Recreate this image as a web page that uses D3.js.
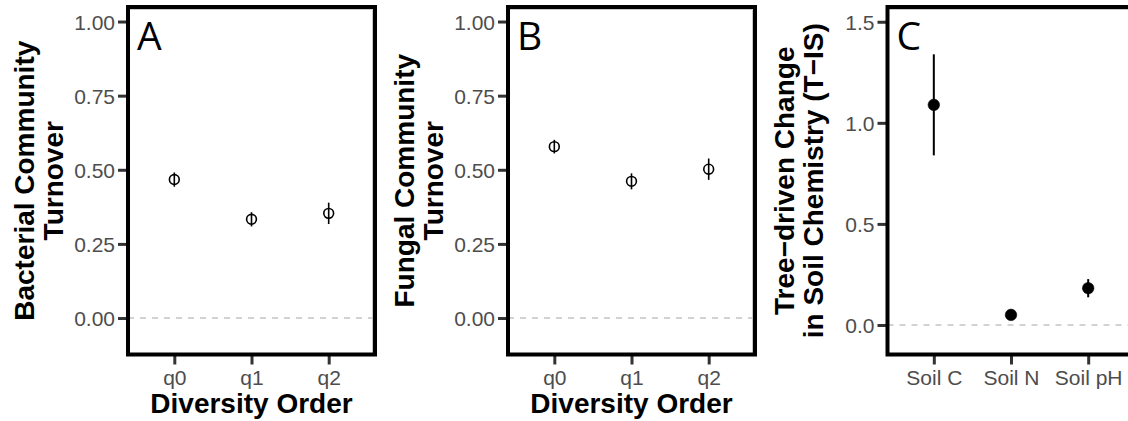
<!DOCTYPE html>
<html>
<head>
<meta charset="utf-8">
<script src="https://cdn.jsdelivr.net/npm/d3@7"></script>
<style>
  html, body { margin: 0; padding: 0; background: #fff; }
  svg { display: block; }
</style>
</head>
<body>
<svg id="chart" width="1128" height="421"></svg>
<script>
// Community turnover by diversity order (mean ± error)
const diversityOrders = ["q0", "q1", "q2"];
const bacterialTurnover = [0.467, 0.333, 0.353];
const bacterialError = [0.024, 0.024, 0.036];
const fungalTurnover = [0.578, 0.461, 0.502];
const fungalError = [0.023, 0.027, 0.036];

// Tree-driven change in soil chemistry (mean ± error)
const soilVariables = ["Soil C", "Soil N", "Soil pH"];
const soilChange = [1.089, 0.050, 0.182];
const soilError = [0.250, 0.015, 0.045];

// Axis ticks
const turnoverTicks = [0, 0.25, 0.5, 0.75, 1.0];
const soilTicks = [0, 0.5, 1.0, 1.5];

const svg = d3.select("#chart");
const tickFont = "'Liberation Sans', Arial, Helvetica, sans-serif";
const panelTop = 7, panelBottom = 354.5, panelWidth = 247;

function drawPanel(opts) {
  const left = opts.left, right = left + panelWidth;
  const g = svg.append("g");

  const x = d3.scalePoint().domain(opts.categories).range([left, right]).padding(0.6);
  const y = d3.scaleLinear().domain(opts.yDomain).range([panelBottom, panelTop]);

  // y axis
  const yAxis = g.append("g")
    .attr("transform", `translate(${left},0)`)
    .call(d3.axisLeft(y).tickValues(opts.yTicks).tickFormat(d3.format(opts.yFormat)).tickSize(10).tickPadding(3));
  yAxis.select(".domain").remove();
  yAxis.selectAll(".tick line").attr("stroke", "#333").attr("stroke-width", 3);
  yAxis.selectAll(".tick text")
    .attr("fill", "#4d4d4d").attr("font-family", tickFont).attr("font-size", 21)
    .attr("dy", "0.36em");

  // x axis
  const xAxis = g.append("g")
    .attr("transform", `translate(0,${panelBottom})`)
    .call(d3.axisBottom(x).tickSize(10).tickPadding(2));
  xAxis.select(".domain").remove();
  xAxis.selectAll(".tick line").attr("stroke", "#333").attr("stroke-width", 3);
  xAxis.selectAll(".tick text")
    .attr("fill", "#4d4d4d").attr("font-family", tickFont).attr("font-size", 21)
    .attr("dy", "0.9em");

  // white panel background
  g.append("rect")
    .attr("x", left).attr("y", panelTop)
    .attr("width", panelWidth).attr("height", panelBottom - panelTop)
    .attr("fill", "#fff");

  // zero reference line
  g.append("line")
    .attr("x1", left).attr("x2", right)
    .attr("y1", y(0)).attr("y2", y(0))
    .attr("stroke", "#c4c4c4").attr("stroke-width", 1.4)
    .attr("stroke-dasharray", "6,6");

  const data = opts.categories.map((c, i) => ({ c, v: opts.values[i], e: opts.errors[i] }));

  // error bars
  g.selectAll("line.err").data(data).enter().append("line")
    .attr("class", "err")
    .attr("x1", d => x(d.c)).attr("x2", d => x(d.c))
    .attr("y1", d => y(d.v - d.e)).attr("y2", d => y(d.v + d.e))
    .attr("stroke", "#000").attr("stroke-width", opts.filled ? 2 : 1.6);

  // points
  g.selectAll("circle.pt").data(data).enter().append("circle")
    .attr("class", "pt")
    .attr("cx", d => x(d.c)).attr("cy", d => y(d.v))
    .attr("r", opts.filled ? 5.8 : 4.9)
    .attr("fill", opts.filled ? "#000" : "none")
    .attr("stroke", "#000").attr("stroke-width", opts.filled ? 0.5 : 1.6);

  // panel border: thin grey inner edge, heavy black frame
  g.append("path")
    .attr("d", `M${left},${panelTop + 2.5}H${right - 2.5}V${panelBottom}`)
    .attr("fill", "none").attr("stroke", "#c8c8c8").attr("stroke-width", 1);
  g.append("rect")
    .attr("x", left).attr("y", panelTop)
    .attr("width", panelWidth).attr("height", panelBottom - panelTop)
    .attr("fill", "none").attr("stroke", "#000").attr("stroke-width", 4);

  // panel letter
  g.append("text")
    .attr("x", left + 9).attr("y", panelTop + 43)
    .attr("font-family", "'Open Sans', 'Liberation Sans', sans-serif")
    .attr("font-size", 39).attr("fill", "#000")
    .text(opts.letter);

  // y axis title (two lines)
  const cy = (panelTop + panelBottom) / 2;
  const yt = g.append("text")
    .attr("transform", `translate(${left - 94},${cy}) rotate(-90)`)
    .attr("text-anchor", "middle")
    .attr("font-family", tickFont).attr("font-weight", "bold")
    .attr("font-size", 28).attr("fill", "#000");
  opts.yTitle.forEach((t, i) => {
    yt.append("tspan").attr("x", 0).attr("y", i * 29).text(t);
  });

  // x axis title
  if (opts.xTitle) {
    g.append("text")
      .attr("x", (left + right) / 2).attr("y", 413)
      .attr("text-anchor", "middle")
      .attr("font-family", tickFont).attr("font-weight", "bold")
      .attr("font-size", 28).attr("fill", "#000")
      .text(opts.xTitle);
  }
}

drawPanel({
  left: 128, letter: "A",
  categories: diversityOrders, values: bacterialTurnover, errors: bacterialError,
  yDomain: [-0.123, 1.049], yTicks: turnoverTicks, yFormat: ".2f",
  yTitle: ["Bacterial Community", "Turnover"], xTitle: "Diversity Order", filled: false
});

drawPanel({
  left: 508, letter: "B",
  categories: diversityOrders, values: fungalTurnover, errors: fungalError,
  yDomain: [-0.123, 1.049], yTicks: turnoverTicks, yFormat: ".2f",
  yTitle: ["Fungal Community", "Turnover"], xTitle: "Diversity Order", filled: false
});

drawPanel({
  left: 887.5, letter: "C",
  categories: soilVariables, values: soilChange, errors: soilError,
  yDomain: [-0.146, 1.573], yTicks: soilTicks, yFormat: ".1f",
  yTitle: ["Tree\u2212driven Change", "in Soil Chemistry (T\u2212IS)"], xTitle: null, filled: true
});
</script>
</body>
</html>
